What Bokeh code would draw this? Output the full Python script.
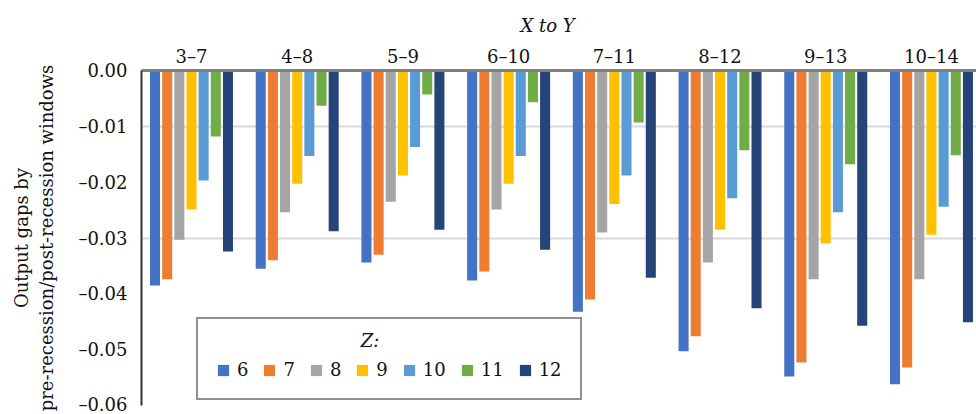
from bokeh.plotting import figure
from bokeh.models import (Range1d, FixedTicker, CustomJSTickFormatter, Legend, LegendItem,
                          ColumnDataSource)
from bokeh.core.properties import value
from bokeh.transform import dodge
from bokeh.embed import file_html
from bokeh.resources import INLINE

# ---- data ----
categories = ["3\u20137", "4\u20138", "5\u20139", "6\u201310", "7\u201311", "8\u201312", "9\u201313", "10\u201314"]
z_names = ["6", "7", "8", "9", "10", "11", "12"]
z6 = [-0.0385, -0.0355, -0.0344, -0.0376, -0.0432, -0.0503, -0.0548, -0.0562]
z7 = [-0.0374, -0.0340, -0.0330, -0.0360, -0.0410, -0.0476, -0.0523, -0.0532]
z8 = [-0.0303, -0.0254, -0.0235, -0.0249, -0.0290, -0.0344, -0.0374, -0.0374]
z9 = [-0.0249, -0.0203, -0.0188, -0.0203, -0.0239, -0.0285, -0.0310, -0.0294]
z10 = [-0.0197, -0.0153, -0.0137, -0.0153, -0.0188, -0.0229, -0.0254, -0.0244]
z11 = [-0.0118, -0.0063, -0.0043, -0.0057, -0.0093, -0.0143, -0.0168, -0.0152]
z12 = [-0.0324, -0.0288, -0.0285, -0.0321, -0.0371, -0.0426, -0.0457, -0.0451]
y_ticks = [0.0, -0.01, -0.02, -0.03, -0.04, -0.05, -0.06]
grid_ticks = [-0.01, -0.03]

series = [z6, z7, z8, z9, z10, z11, z12]
colors = ["#4472C4", "#ED7D31", "#A5A5A5", "#FFC000", "#5B9BD5", "#70AD47", "#264478"]
FONT = "DejaVu Serif"

src = ColumnDataSource(dict(x=list(range(len(categories))),
                            **{"z" + n: s for n, s in zip(z_names, series)}))

p = figure(width=976, height=414, x_range=Range1d(-0.473, 7.426), y_range=Range1d(-0.06, 0.0),
           x_axis_location="above", output_backend="svg", toolbar_location=None,
           min_border_left=141, min_border_right=0, min_border_top=70, min_border_bottom=9,
           title="X to Y")
p.outline_line_color = None
p.background_fill_color = "white"
p.border_fill_color = "white"

# title "X to Y"
p.title.align = "left"
p.title.offset = 379
p.title.text_font = FONT
p.title.text_font_size = "18px"
p.title.text_font_style = "italic"
p.title.text_color = "#111111"
p.title.standoff = 14

slot = 0.115
renderers = []
for i, (n, c) in enumerate(zip(z_names, colors)):
    r = p.vbar(x=dodge("x", (i - 3) * slot, range=p.x_range), top=0.0, bottom="z" + n,
               width=0.095, source=src, fill_color=c, line_color=None)
    renderers.append(r)

# grid
p.xgrid.visible = False
p.ygrid.ticker = FixedTicker(ticks=grid_ticks)
p.ygrid.grid_line_color = "#d9d9d9"
p.ygrid.grid_line_width = 2

# top axis (categories)
xa = p.xaxis[0]
xa.ticker = FixedTicker(ticks=list(range(len(categories))))
xa.formatter = CustomJSTickFormatter(args=dict(labels=categories),
                                     code="const k = Math.round(tick); return labels[k] || '';")
xa.major_tick_line_color = None
xa.minor_tick_line_color = None
xa.axis_line_color = "#7f7f7f"
xa.axis_line_width = 3
xa.major_label_text_font = FONT
xa.major_label_text_font_size = "18px"
xa.major_label_text_color = "#111111"
xa.major_label_standoff = -2

# left axis
ya = p.yaxis[0]
ya.ticker = FixedTicker(ticks=y_ticks)
ya.formatter = CustomJSTickFormatter(code="return (tick < -1e-9 ? '\u2013' : '') + Math.abs(tick).toFixed(2);")
ya.major_tick_line_color = None
ya.minor_tick_line_color = None
ya.axis_line_color = "#333333"
ya.axis_line_width = 2
ya.major_label_text_font = FONT
ya.major_label_text_font_size = "18px"
ya.major_label_text_color = "#111111"
ya.major_label_standoff = 8
ya.axis_label = "Output gaps by\npre-recession/post-recession windows"
ya.axis_label_text_font = FONT
ya.axis_label_text_font_size = "18px"
ya.axis_label_text_font_style = "normal"
ya.axis_label_text_color = "#111111"
ya.axis_label_standoff = 18

# legend title "Z:" drawn as text, centred in the (transparent) legend box
p.text(x=[1.69], y=[-0.0484], text=["Z:"], text_font=value(FONT), text_font_size="18px",
       text_font_style="italic", text_align="center", text_baseline="middle",
       text_color="#111111")

legend = Legend(items=[LegendItem(label=n, renderers=[r]) for n, r in zip(z_names, renderers)],
                orientation="horizontal", location=(55, 5), title="\u00a0",
                title_text_font=FONT, title_text_font_size="18px",
                title_standoff=1,
                label_text_font=FONT, label_text_font_size="18px", label_text_color="#111111",
                glyph_width=14, glyph_height=14, label_width=1, label_height=20, label_standoff=7,
                spacing=14, padding=18, margin=0,
                border_line_color="#222222", border_line_width=2, background_fill_alpha=0.0)
p.add_layout(legend)

open("out.html", "w").write(file_html(p, INLINE))
